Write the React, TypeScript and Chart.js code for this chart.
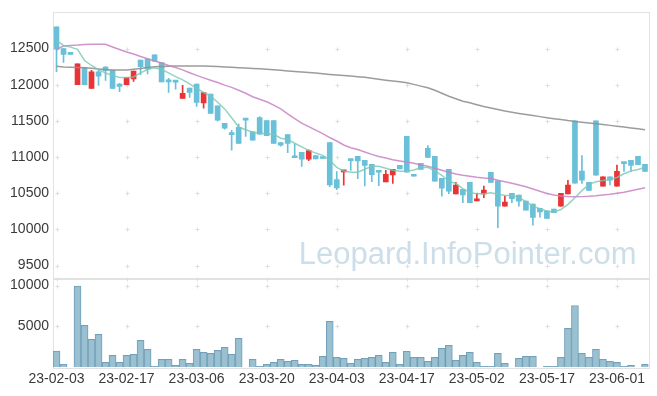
import React, { useEffect, useRef } from 'react';
import { Chart, registerables } from 'chart.js';

Chart.register(...registerables);

const dates = [
  '23-02-03', '23-02-06', '23-02-07', '23-02-08', '23-02-09', '23-02-10', '23-02-13', '23-02-14', '23-02-15', '23-02-16',
  '23-02-17', '23-02-20', '23-02-21', '23-02-22', '23-02-23', '23-02-24', '23-02-27', '23-02-28', '23-03-02', '23-03-03',
  '23-03-06', '23-03-07', '23-03-08', '23-03-09', '23-03-10', '23-03-13', '23-03-14', '23-03-15', '23-03-16', '23-03-17',
  '23-03-20', '23-03-21', '23-03-22', '23-03-23', '23-03-24', '23-03-27', '23-03-28', '23-03-29', '23-03-30', '23-03-31',
  '23-04-03', '23-04-04', '23-04-05', '23-04-06', '23-04-07', '23-04-10', '23-04-11', '23-04-12', '23-04-13', '23-04-14',
  '23-04-17', '23-04-18', '23-04-19', '23-04-20', '23-04-21', '23-04-24', '23-04-25', '23-04-26', '23-04-27', '23-04-28',
  '23-05-02', '23-05-03', '23-05-04', '23-05-08', '23-05-09', '23-05-10', '23-05-11', '23-05-12', '23-05-15', '23-05-16',
  '23-05-17', '23-05-18', '23-05-19', '23-05-22', '23-05-23', '23-05-24', '23-05-25', '23-05-26', '23-05-30', '23-05-31',
  '23-06-01', '23-06-02', '23-06-05', '23-06-07', '23-06-08',
];

const openP = [
  12800, 12500, 12430, 12000, 12240, 11950, 12180, 12245, 12200, 12010,
  12000, 12080, 12340, 12355, 12415, 12305, 12060, 12060, 11810, 11955,
  12010, 11750, 11870, 11710, 11465, 11320, 11410, 11520, 11350, 11545,
  11505, 11505, 11200, 11310, 11005, 11065, 10970, 11020, 10985, 11200,
  10690, 10795, 10955, 11010, 10955, 10900, 10795, 10656, 10753, 10885,
  11285, 10760, 10915, 11120, 11010, 10705, 10830, 10492, 10555, 10650,
  10395, 10490, 10790, 10670, 10322, 10500, 10475, 10390, 10350, 10290,
  10255, 10280, 10322, 10492, 11500, 10805, 10650, 11500, 10597, 10725,
  10597, 10910, 10955, 11010, 10900,
];
const highP = [
  12800, 12500, 12430, 12290, 12240, 12200, 12210, 12250, 12200, 12020,
  12100, 12190, 12340, 12360, 12415, 12305, 12090, 12060, 11990, 11955,
  12010, 11890, 11870, 11710, 11465, 11370, 11455, 11520, 11350, 11560,
  11505, 11505, 11200, 11310, 11180, 11065, 11100, 11020, 10985, 11200,
  10800, 10815, 10955, 11010, 10955, 10900, 10795, 10817, 10830, 10885,
  11285, 10760, 10915, 11160, 11010, 10705, 10830, 10652, 10555, 10650,
  10500, 10600, 10790, 10670, 10460, 10500, 10475, 10390, 10350, 10290,
  10255, 10280, 10497, 10680, 11500, 11020, 10650, 11500, 10725, 10725,
  10890, 10910, 10955, 11010, 10900,
];
const lowP = [
  12180, 12310, 12420, 12000, 12000, 11950, 11990, 12060, 11950, 11905,
  12000, 12045, 12140, 12150, 12325, 12040, 11895, 11940, 11810, 11825,
  11700, 11675, 11605, 11495, 11385, 11095, 11190, 11285, 11235, 11315,
  11295, 11190, 11150, 11060, 10990, 10870, 10950, 10975, 10980, 10590,
  10550, 10610, 10815, 10700, 10600, 10660, 10605, 10656, 10634, 10835,
  10790, 10735, 10830, 10995, 10665, 10460, 10495, 10492, 10370, 10370,
  10395, 10440, 10650, 10025, 10322, 10370, 10320, 10265, 10060, 10170,
  10150, 10230, 10322, 10492, 10640, 10635, 10540, 10750, 10597, 10615,
  10597, 10800, 10800, 10895, 10800,
];
const closeP = [
  12490, 12420, 12420, 12290, 12000, 12180, 12120, 12195, 11950, 11975,
  12100, 12190, 12250, 12220, 12325, 12040, 12040, 12035, 11880, 11895,
  11755, 11890, 11605, 11510, 11400, 11310, 11190, 11510, 11235, 11315,
  11295, 11190, 11165, 11190, 10990, 10970, 11090, 10975, 10980, 10615,
  10575, 10815, 10950, 10945, 10885, 10755, 10790, 10762, 10830, 10835,
  10790, 10735, 10830, 10995, 10665, 10570, 10530, 10611, 10475, 10370,
  10418, 10545, 10650, 10320, 10377, 10425, 10390, 10265, 10165, 10240,
  10150, 10230, 10497, 10611, 10640, 10680, 10540, 10750, 10725, 10680,
  10803, 10910, 10885, 10895, 10800,
];

const volume = [
  1990, 370, 0, 9920, 5120, 3415, 4025, 610, 1460, 610,
  1460, 1585, 3290, 2195, 120, 975, 975, 245, 975, 490,
  2195, 1830, 1710, 2075, 2440, 1585, 3540, 0, 975, 120,
  366, 610, 975, 730, 855, 366, 366, 245, 1340, 5610,
  1220, 1100, 490, 975, 1100, 1220, 1460, 610, 1830, 366,
  1950, 1220, 1220, 730, 1220, 2315, 2680, 855, 1460, 1830,
  610, 120, 120, 1710, 490, 0, 1100, 1340, 1340, 0,
  120, 120, 1220, 4760, 7560, 1710, 1220, 2195, 975, 730,
  610, 120, 245, 0, 366,
];

const ma5 = [
  12617, 12541, 12520, 12489, 12335, 12266, 12209, 12163, 12129, 12099,
  12099, 12108, 12163, 12211, 12236, 12211, 12163, 12113, 12067, 12012,
  11950, 11893, 11843, 11757, 11666, 11543, 11415, 11377, 11344, 11329,
  11321, 11318, 11261, 11244, 11191, 11140, 11092, 11055, 11023, 10955,
  10858, 10806, 10790, 10790, 10831, 10872, 10872, 10845, 10817, 10803,
  10803, 10821, 10851, 10858, 10810, 10748, 10666, 10634, 10563, 10510,
  10494, 10494, 10508, 10487, 10470, 10470, 10442, 10385, 10322, 10285,
  10251, 10240, 10274, 10346, 10437, 10536, 10623, 10659, 10675, 10689,
  10717, 10769, 10806, 10827, 10858,
];
const ma20 = [
  12489, 12534, 12544, 12548, 12555, 12558, 12559, 12558, 12521, 12486,
  12452, 12424, 12390, 12360, 12328, 12300, 12266, 12238, 12205, 12166,
  12129, 12095, 12063, 12030, 11994, 11964, 11923, 11882, 11834, 11800,
  11765, 11717, 11665, 11597, 11531, 11469, 11421, 11373, 11325, 11270,
  11222, 11167, 11129, 11105, 11071, 11037, 11009, 10986, 10963, 10946,
  10931, 10913, 10892, 10874, 10844, 10817, 10790, 10766, 10749, 10735,
  10721, 10710, 10703, 10680, 10658, 10638, 10615, 10589, 10559, 10528,
  10497, 10476, 10460, 10453, 10450, 10453, 10458, 10466, 10477, 10487,
  10501, 10515, 10535, 10556, 10577,
];
const ma60 = [
  12255, 12246, 12242, 12238, 12235, 12228, 12218, 12210, 12205, 12205,
  12205, 12214, 12225, 12239, 12249, 12252, 12257, 12260, 12260, 12260,
  12259, 12260, 12256, 12252, 12246, 12240, 12235, 12231, 12225, 12220,
  12213, 12206, 12199, 12191, 12183, 12176, 12169, 12161, 12151, 12141,
  12133, 12126, 12119, 12111, 12102, 12088, 12077, 12063, 12051, 12040,
  12026, 12005, 11981, 11957, 11923, 11882, 11840, 11806, 11772, 11751,
  11724, 11699, 11679, 11658, 11637, 11619, 11603, 11588, 11573, 11559,
  11545, 11531, 11518, 11504, 11493, 11482, 11471, 11460, 11449, 11438,
  11427, 11415, 11402, 11390, 11376,
];

const priceTicks = [9500, 10000, 10500, 11000, 11500, 12000, 12500];
const volumeTicks = [5000, 10000];
const WATERMARK = 'Leopard.InfoPointer.com';

const FONT = '"Liberation Sans", Arial, sans-serif';
const UP = 'rgb(232,52,52)';
const DOWN = 'rgb(106,192,216)';

const decor = {
  id: 'decor',
  beforeDatasetsDraw(chart: any) {
    const { ctx, chartArea } = chart;
    const xs = chart.scales.x;
    const ys = chart.scales.y;
    const yv = chart.scales.yv;
    ctx.save();
    ctx.font = '31px ' + FONT;
    ctx.fillStyle = 'rgba(170,200,218,0.6)';
    ctx.textAlign = 'right';
    ctx.textBaseline = 'alphabetic';
    ctx.fillText(WATERMARK, chartArea.right - 12, ys.bottom - 14.5);
    ctx.strokeStyle = '#e2e2e2';
    ctx.lineWidth = 1;
    ctx.strokeRect(Math.round(chartArea.left) + 0.5, Math.round(ys.top) + 0.5,
      Math.round(chartArea.right - chartArea.left), Math.round(ys.bottom - ys.top));
    ctx.strokeRect(Math.round(chartArea.left) + 0.5, Math.round(yv.top) + 0.5,
      Math.round(chartArea.right - chartArea.left), Math.round(yv.bottom - yv.top));
    ctx.strokeStyle = '#dedede';
    const rows: number[] = [];
    priceTicks.forEach((v) => rows.push(ys.getPixelForValue(v)));
    rows.push(ys.bottom);
    volumeTicks.forEach((v) => rows.push(yv.getPixelForValue(v)));
    ctx.beginPath();
    for (let i = 0; i < dates.length; i += 10) {
      const px = Math.round(xs.getPixelForValue(i)) + 0.5;
      rows.forEach((r) => {
        const py = Math.round(r) + 0.5;
        ctx.moveTo(px - 2, py);
        ctx.lineTo(px + 2, py);
        ctx.moveTo(px, py - 2);
        ctx.lineTo(px, py + 2);
      });
    }
    ctx.stroke();
    ctx.restore();
  },
};

export default function App() {
  const ref = useRef<HTMLCanvasElement>(null);
  useEffect(() => {
    if (!ref.current) return;
    const colors = dates.map((_, i) => (closeP[i] > openP[i] ? UP : DOWN));
    const chart = new Chart(ref.current, {
      type: 'bar',
      data: {
        labels: dates,
        datasets: [
          {
            type: 'line', label: 'MA5', data: ma5, yAxisID: 'y',
            borderColor: 'rgba(120,200,180,0.8)', borderWidth: 1.5, pointRadius: 0, tension: 0, order: 0,
          },
          {
            type: 'line', label: 'MA20', data: ma20, yAxisID: 'y',
            borderColor: 'rgba(200,130,195,0.85)', borderWidth: 1.5, pointRadius: 0, tension: 0, order: 0,
          },
          {
            type: 'line', label: 'MA60', data: ma60, yAxisID: 'y',
            borderColor: 'rgba(145,145,145,0.9)', borderWidth: 1.5, pointRadius: 0, tension: 0, order: 0,
          },
          {
            type: 'bar', label: 'body', data: dates.map((_, i) => [openP[i], closeP[i]]), yAxisID: 'y',
            backgroundColor: colors, barThickness: 5, grouped: false, minBarLength: 2, order: 1,
          },
          {
            type: 'bar', label: 'wick', data: dates.map((_, i) => [lowP[i], highP[i]]), yAxisID: 'y',
            backgroundColor: colors, barThickness: 1, grouped: false, order: 2,
          },
          {
            type: 'bar', label: 'volume', data: volume, yAxisID: 'yv',
            backgroundColor: 'rgba(150,190,207,0.95)', borderColor: 'rgba(100,150,178,0.9)', borderWidth: 1,
            barPercentage: 1, categoryPercentage: 1, grouped: false, order: 3,
          },
        ] as any,
      },
      options: {
        animation: false,
        responsive: true,
        maintainAspectRatio: false,
        layout: { padding: { left: 0, top: 10, right: 8.5, bottom: 0 } },
        plugins: { legend: { display: false }, tooltip: { enabled: false } },
        scales: {
          x: {
            type: 'category',
            offset: true,
            grid: { display: false, drawTicks: false },
            border: { display: false },
            ticks: {
              autoSkip: false, maxRotation: 0, minRotation: 0, padding: 3,
              color: '#3a3a3a', font: { family: FONT, size: 14 },
              callback: (_v: any, i: number) => (i % 10 === 0 ? dates[i] : null),
            },
            afterFit: (s: any) => { s.height = 28.7; },
          },
          y: {
            type: 'linear', position: 'left', stack: 'main', stackWeight: 3, weight: 2,
            min: 9320, max: 13000,
            grid: { display: false, drawTicks: false },
            border: { display: false },
            afterBuildTicks: (s: any) => { s.ticks = priceTicks.map((v) => ({ value: v })); },
            ticks: {
              autoSkip: false, padding: 4,
              color: '#3a3a3a', font: { family: FONT, size: 14 },
              callback: (v: any) => String(v),
            },
            afterFit: (s: any) => { s.width = 53; },
          },
          yv: {
            type: 'linear', position: 'left', stack: 'main', stackWeight: 1, weight: 1,
            min: 0, max: 10850,
            grid: { display: false, drawTicks: false },
            border: { display: false },
            afterBuildTicks: (s: any) => { s.ticks = volumeTicks.map((v) => ({ value: v })); },
            ticks: {
              autoSkip: false, padding: 4,
              color: '#3a3a3a', font: { family: FONT, size: 14 },
              callback: (v: any) => String(v),
            },
            afterFit: (s: any) => { s.width = 53; },
          },
        },
      } as any,
      plugins: [decor],
    });
    return () => chart.destroy();
  }, []);
  return (
    <div style={{ position: 'absolute', left: 0, top: 0, width: 657, height: 396, background: '#fff' }}>
      <canvas ref={ref} />
    </div>
  );
}
